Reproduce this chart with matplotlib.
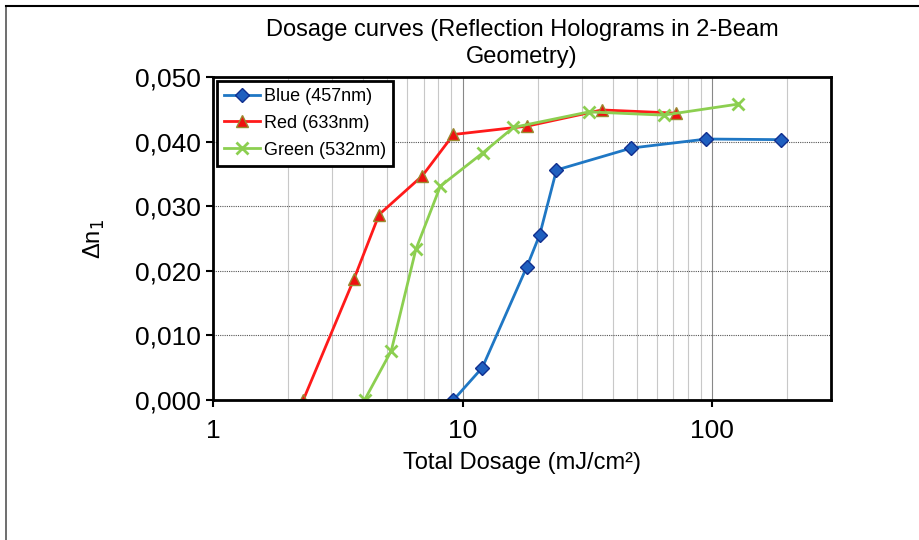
import matplotlib.pyplot as plt
from matplotlib.lines import Line2D
from matplotlib.ticker import FuncFormatter, LogLocator
import numpy as np

plt.rcParams['font.family'] = ['Liberation Sans', 'DejaVu Sans']

# data
blue_x = [9.2, 12.0, 18.1, 20.4, 23.8, 47.5, 95.0, 189.0]
blue_y = [0.0, 0.0050, 0.0206, 0.0256, 0.0356, 0.0390, 0.0404, 0.0403]
red_x = [2.3, 3.67, 4.63, 6.9, 9.2, 18.2, 36.2, 72.0]
red_y = [0.0, 0.0187, 0.0287, 0.0347, 0.0411, 0.0424, 0.0449, 0.0444]
green_x = [4.05, 5.18, 6.5, 8.15, 12.1, 16.0, 32.1, 64.0, 127.0]
green_y = [0.0, 0.0076, 0.0233, 0.0331, 0.0383, 0.0422, 0.0446, 0.0441, 0.0458]

fig = plt.figure(figsize=(9.19, 5.4), dpi=100)
ax = fig.add_axes([0.2318, 0.2593, 0.6725, 0.5981])

# outer chart frame (top and left only visible)
fig.add_artist(Line2D([0.0065, 0.0065], [0, 0.989], transform=fig.transFigure, color='#555555', lw=1.2))
fig.add_artist(Line2D([0.0065, 1], [0.989, 0.989], transform=fig.transFigure, color='black', lw=1.5))

ax.plot(blue_x, blue_y, color='#1f77c4', lw=2, marker='D', ms=7,
        mfc='#1f5fbf', mec='#102f8f', mew=1, label='Blue (457nm)')
ax.plot(red_x, red_y, color='#ff1a1a', lw=2, marker='^', ms=8,
        mfc='#ee1111', mec='#9a8a30', mew=1, label='Red (633nm)')
ax.plot(green_x, green_y, color='#8ccf50', lw=2, marker='x', ms=9,
        mew=2, label='Green (532nm)')

ax.set_xscale('log')
ax.set_xlim(1, 300)
ax.set_ylim(0, 0.05)
ax.set_yticks(np.arange(0, 0.0501, 0.01))
ax.yaxis.set_major_formatter(FuncFormatter(lambda v, p: f'{v:.3f}'.replace('.', ',')))
ax.xaxis.set_major_locator(LogLocator(base=10))
ax.xaxis.set_major_formatter(FuncFormatter(lambda v, p: f'{v:g}'))
ax.xaxis.set_minor_locator(LogLocator(base=10, subs=np.arange(2, 10)))
ax.xaxis.set_minor_formatter(FuncFormatter(lambda v, p: ''))

ax.grid(axis='y', which='major', color='#555555', ls=(0, (1, 1)), lw=0.8)
ax.grid(axis='x', which='major', color='#888888', lw=0.8)
ax.grid(axis='x', which='minor', color='#c8c8c8', lw=0.8)
ax.set_axisbelow(True)

for s in ax.spines.values():
    s.set_linewidth(2)
    s.set_color('black')

ax.tick_params(axis='both', which='major', labelsize=19, direction='out', length=5, width=1.5)
ax.tick_params(axis='x', which='minor', length=0)
ax.tick_params(axis='x', which='major', pad=9)

ax.set_xlabel('Total Dosage (mJ/cm²)', fontsize=17, labelpad=6)
ax.set_ylabel('Δn$_1$', fontsize=17, labelpad=20)
ax.set_title('Dosage curves (Reflection Holograms in 2-Beam\nGeometry)', fontsize=17, pad=10,
             linespacing=1.3)

leg = ax.legend(loc='upper left', fontsize=13, frameon=True, fancybox=False,
                borderaxespad=0.2, handlelength=2.0, handletextpad=0.2,
                labelspacing=0.55, borderpad=0.4)
leg.get_frame().set_edgecolor('black')
leg.get_frame().set_linewidth(2)
leg.get_frame().set_alpha(1)

fig.savefig('out.png', dpi=100)
